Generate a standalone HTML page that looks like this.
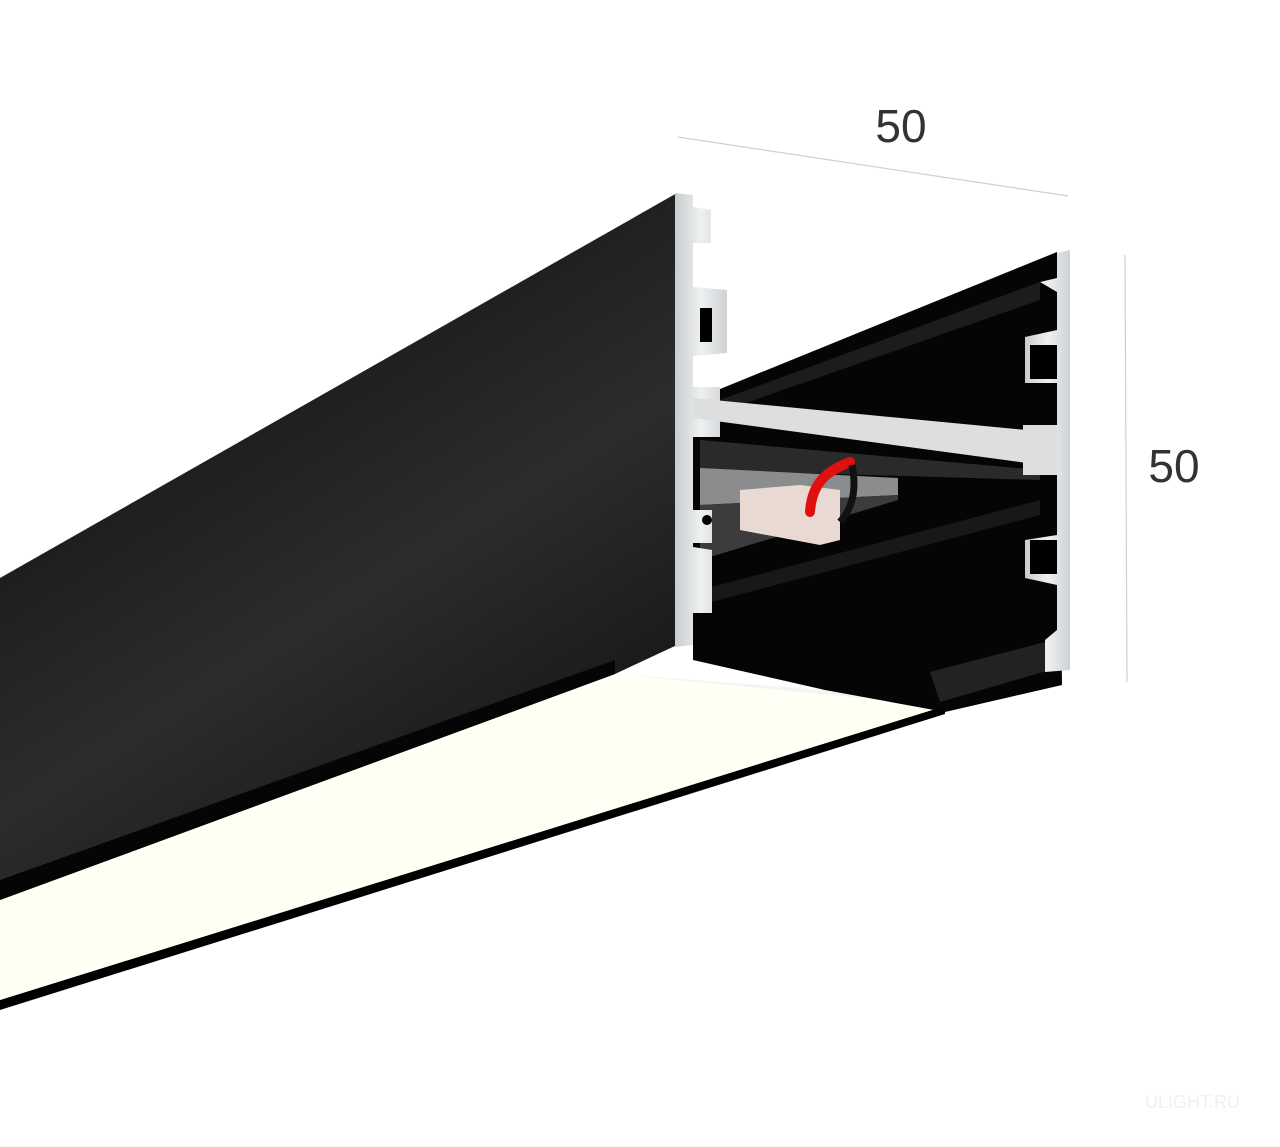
<!DOCTYPE html>
<html><head><meta charset="utf-8"><style>
html,body{margin:0;padding:0;background:#fff;width:1280px;height:1147px;overflow:hidden}
</style></head><body>
<svg width="1280" height="1147" viewBox="0 0 1280 1147" xmlns="http://www.w3.org/2000/svg">
<defs>
<linearGradient id="face" x1="0" y1="0" x2="0.6" y2="1">
<stop offset="0" stop-color="#080808"/><stop offset="0.65" stop-color="#2c2c2c"/><stop offset="1" stop-color="#151515"/>
</linearGradient>
<linearGradient id="al" x1="0" y1="0" x2="1" y2="0">
<stop offset="0" stop-color="#c9ccce"/><stop offset="0.5" stop-color="#eef0f1"/><stop offset="1" stop-color="#cfd2d4"/>
</linearGradient>
</defs>
<line x1="678" y1="137" x2="1068" y2="196" stroke="#cfcfcf" stroke-width="1.2"/>
<line x1="1125" y1="255" x2="1127" y2="682" stroke="#cfcfcf" stroke-width="1.2"/>
<text x="901" y="142" font-family="Liberation Sans, sans-serif" font-size="46" fill="#333" text-anchor="middle">50</text>
<text x="1174" y="482" font-family="Liberation Sans, sans-serif" font-size="46" fill="#333" text-anchor="middle">50</text>
<polygon points="0,1000 945,706 945,714 0,1010" fill="#000"/>
<polygon points="0,900 615,674 945,706 0,1000" fill="#fffff3"/>
<polygon points="615,674 825,690 940,672 945,706" fill="#f4f4f4"/>
<!-- interior -->
<polygon points="693,400 1057,252 1062,685 945,712 825,690 693,660" fill="#050505"/>
<polygon points="720,400 1040,282 1040,300 720,412" fill="#1c1c1c"/>
<polygon points="700,440 1040,470 1040,480 700,470" fill="#2a2a2a"/>
<polygon points="700,590 1040,500 1040,515 700,605" fill="#181818"/>
<polygon points="930,672 1045,642 1050,670 940,702" fill="#222"/>
<!-- driver -->
<polygon points="700,468 898,478 898,495 700,505" fill="#8a8c8e"/>
<polygon points="700,505 898,495 898,500 700,560" fill="#3c3c3c"/>
<polygon points="740,490 800,485 840,490 840,540 820,545 740,530" fill="#e9d9d3"/>
<path d="M810,512 C812,480 830,470 850,462" stroke="#e01010" stroke-width="10" fill="none" stroke-linecap="round"/>
<path d="M840,522 C855,505 856,485 852,465" stroke="#111" stroke-width="7" fill="none"/>
<!-- left face -->
<polygon points="0,578 677,193 677,645 615,674 0,900" fill="url(#face)"/>
<polygon points="0,880 615,660 615,674 0,900" fill="#050505"/>
<!-- left aluminium strip -->
<polygon points="675,193 693,195 693,207 711,210 711,243 693,243 693,287 727,290 727,353 693,356 693,387 720,387 720,437 693,437 693,510 712,510 712,543 693,543 693,547 712,550 712,613 693,613 693,645 675,647" fill="url(#al)"/>
<!-- crossbar -->
<polygon points="693,398 1057,433 1057,467 693,418" fill="#dcdee0"/>
<polygon points="1023,425 1057,425 1057,475 1023,475" fill="#dcdee0"/>
<!-- right aluminium strip -->
<polygon points="1057,253 1070,250 1070,670 1045,672 1045,640 1057,630 1057,585 1025,578 1025,540 1057,535 1057,330 1025,337 1025,383 1057,383 1057,292 1040,282 1057,278" fill="url(#al)"/>
<rect x="1030" y="345" width="27" height="34" fill="#000"/>
<rect x="1030" y="540" width="27" height="34" fill="#000"/>
<rect x="700" y="308" width="12" height="34" fill="#000"/>
<circle cx="707" cy="520" r="5" fill="#000"/>
<text x="1240" y="1108" font-family="Liberation Sans, sans-serif" font-size="18" fill="#f0f0f0" text-anchor="end">ULIGHT.RU</text>
</svg>
</body></html>
